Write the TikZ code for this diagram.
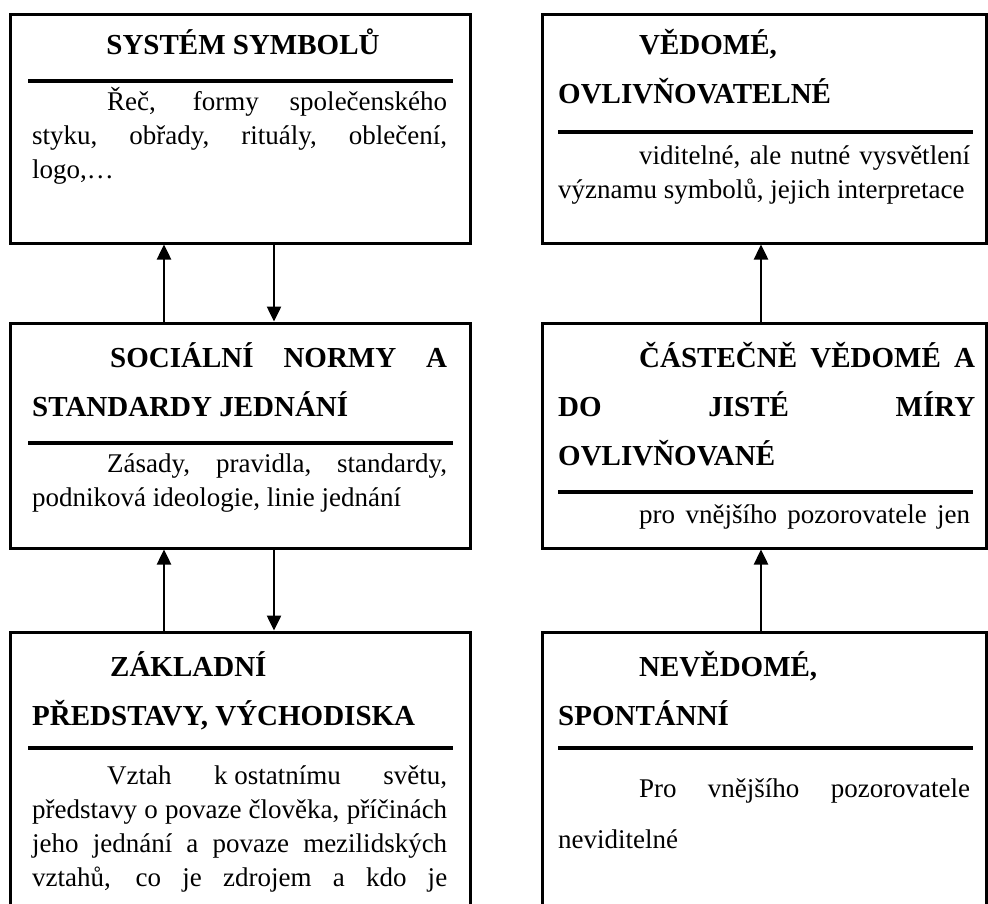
\documentclass[tikz,border=0pt]{standalone}
\usepackage{fontspec}
\setmainfont{Liberation Serif}
\usetikzlibrary{arrows.meta}
\tikzset{
  box/.style={draw,line width=3pt,inner sep=0pt},
  ttl/.style={anchor=base west,inner sep=0pt,text width=#1,align=justify,
    font=\bfseries\fontsize{29pt}{49pt}\selectfont},
  txt/.style={anchor=base west,inner sep=0pt,text width=#1,align=justify,
    font=\fontsize{27pt}{34pt}\selectfont},
  sep/.style={line width=4pt},
  arr/.style={line width=2.5pt,-{Triangle[width=14pt,length=15pt]}}
}
\tolerance=10000
\hyphenpenalty=10000
\begin{document}
\begin{tikzpicture}[x=1pt,y=-1pt]
  \clip (0,0) rectangle (988,903);
  % boxes
  \node[box,minimum width=460pt,minimum height=229pt] (sym) at (240,128.5) {};
  \node[box,minimum width=460pt,minimum height=225pt] (soc) at (240,435.5) {};
  \node[box,minimum width=460pt,minimum height=330pt] (zak) at (240,797) {};
  \node[box,minimum width=444pt,minimum height=229pt] (ved) at (764,128.5) {};
  \node[box,minimum width=444pt,minimum height=225pt] (cas) at (764,435.5) {};
  \node[box,minimum width=444pt,minimum height=330pt] (nev) at (764,797) {};
  % system symbolu
  \node[anchor=base,inner sep=0pt,font=\bfseries\fontsize{29pt}{49pt}\selectfont] (symT) at (243,54) {SYSTÉM SYMBOLŮ};
  \draw[sep] (28,81) -- (453,81);
  \node[txt=415pt] (symB) at (32,110) {\hspace*{75pt}Řeč, formy společenského\linebreak styku, obřady, rituály, oblečení,\linebreak logo,…};
  % socialni normy
  \node[ttl=415pt] (socT) at (32,367) {\hspace*{78pt}SOCIÁLNÍ NORMY A\linebreak STANDARDY JEDNÁNÍ};
  \draw[sep] (28,443) -- (453,443);
  \node[txt=415pt] (socB) at (32,472) {\hspace*{75pt}Zásady, pravidla, standardy,\linebreak podniková ideologie, linie jednání};
  % zakladni predstavy
  \node[ttl=415pt] (zakT) at (32,676) {\hspace*{78pt}ZÁKLADNÍ\newline PŘEDSTAVY, VÝCHODISKA};
  \draw[sep] (28,748) -- (453,748);
  \node[txt=415pt] (zakB) at (32,784) {\hspace*{75pt}Vztah \mbox{k ostatnímu} světu,\linebreak představy o povaze člověka, příčinách\linebreak jeho jednání a povaze mezilidských\linebreak vztahů, co je zdrojem a kdo je\linebreak\mbox{}};
  % vedome
  \node[ttl=415pt] (vedT) at (558,54) {\hspace*{81pt}VĚDOMÉ,\newline OVLIVŇOVATELNÉ};
  \draw[sep] (558,132) -- (973,132);
  \node[txt=412pt] (vedB) at (558,164) {\hspace*{81pt}viditelné, ale nutné vysvětlení\linebreak významu symbolů, jejich interpretace};
  % castecne vedome
  \node[ttl=417pt] (casT) at (558,367) {\hspace*{81pt}ČÁSTEČNĚ VĚDOMÉ A\linebreak DO JISTÉ MÍRY\linebreak OVLIVŇOVANÉ};
  \draw[sep] (558,492) -- (973,492);
  \node[txt=412pt] (casB) at (558,523) {\hspace*{81pt}pro vnějšího pozorovatele jen\linebreak\mbox{}};
  % nevedome
  \node[ttl=415pt] (nevT) at (558,676) {\hspace*{81pt}NEVĚDOMÉ,\newline SPONTÁNNÍ};
  \draw[sep] (558,748) -- (973,748);
  \node[txt=412pt,font=\fontsize{27pt}{51pt}\selectfont] (nevB) at (558,797) {\hspace*{81pt}Pro vnějšího pozorovatele\linebreak neviditelné};
  % arrows
  \draw[arr] ([xshift=-76pt]soc.north) -- ([xshift=-76pt]sym.south);
  \draw[arr] ([xshift=34pt]sym.south) -- ([xshift=34pt]soc.north);
  \draw[arr] ([xshift=-76pt]zak.north) -- ([xshift=-76pt]soc.south);
  \draw[arr] ([xshift=34pt]soc.south) -- ([xshift=34pt]zak.north);
  \draw[arr] ([xshift=-3pt]cas.north) -- ([xshift=-3pt]ved.south);
  \draw[arr] ([xshift=-3pt]nev.north) -- ([xshift=-3pt]cas.south);
\end{tikzpicture}
\end{document}
